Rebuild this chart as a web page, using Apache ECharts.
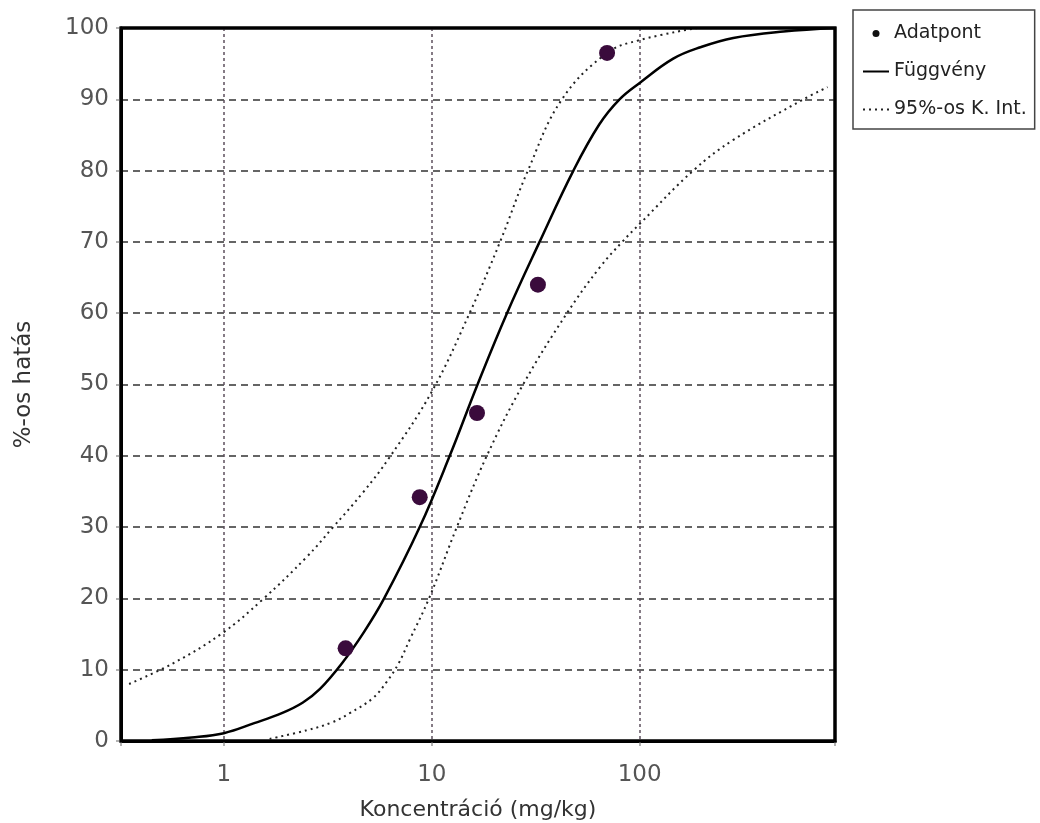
<!DOCTYPE html>
<html>
<head>
<meta charset="utf-8">
<title>Koncentráció - hatás</title>
<script src="https://cdn.jsdelivr.net/npm/echarts@6/dist/echarts.min.js"></script>
<style>
    html, body { margin: 0; padding: 0; background: #fff; }
    #main { width: 1040px; height: 823px; }
</style>
</head>
<body>
<div id="main"></div>
<script>
// mért adatpontok
var pointConc = [3.85, 8.75, 16.5, 32.4, 69.7];
var pointEffect = [13, 34.2, 46, 64, 96.5];

// illesztett függvény
var fitConc = [0.45, 0.7, 1.0, 1.4, 1.9, 2.4, 2.9, 3.7, 4.7, 5.9, 8.75, 12.2, 16.6, 23, 33, 48, 64, 80, 100, 145, 196, 282, 491, 870];
var fitEffect = [0.1, 0.5, 1.1, 2.5, 3.9, 5.4, 7.3, 10.9, 15.2, 20, 30, 40, 50, 60, 70, 80, 86.5, 90, 92.3, 95.7, 97.3, 98.6, 99.5, 100];

// 95%-os konfidencia intervallum, felső ág
var upperConc = [0.35, 0.57, 0.98, 1.53, 2.5, 3.33, 4.65, 6.27, 10, 15.2, 21.3, 29, 42.3, 69.7, 100, 189];
var upperEffect = [8, 10.9, 15.1, 19.8, 25.8, 29.9, 34.8, 39.8, 49, 60, 70, 80, 90, 96.5, 98.3, 100];

// 95%-os konfidencia intervallum, alsó ág
var lowerConc = [1.66, 2.5, 3.3, 4.03, 5.2, 6.07, 6.9, 7.83, 9.7, 13.2, 18.4, 27.5, 44.7, 64.6, 82.4, 100.6, 181, 282, 614, 801];
var lowerEffect = [0.3, 1.5, 2.6, 3.9, 6.0, 8.3, 10.8, 14.2, 20, 30, 40, 50, 60, 66.5, 70, 72.6, 80, 84.3, 90, 91.7];

var yTicks = [0, 10, 20, 30, 40, 50, 60, 70, 80, 90, 100];
var xMin = 0.32, xMax = 870;

var fontName = 'DejaVu Sans, Liberation Sans, Arial, sans-serif';

function pairs(xs, ys) {
    var out = [];
    for (var i = 0; i < xs.length; i++) {
        out.push([xs[i], ys[i]]);
    }
    return out;
}

// csak a 10 hatványait írjuk ki
function decadeLabel(v) {
    var l = Math.log(v) / Math.LN10;
    if (Math.abs(l - Math.round(l)) < 1e-6) {
        return String(Math.round(v));
    }
    return '';
}

var chart = echarts.init(document.getElementById('main'), null, { renderer: 'canvas' });

var option = {
    animation: false,
    backgroundColor: '#fff',
    textStyle: { fontFamily: fontName },
    grid: {
        left: 121,
        top: 28,
        right: 205,
        bottom: 82,
        outerBoundsMode: 'none',
        show: true,
        borderColor: '#000',
        borderWidth: 3,
        backgroundColor: 'transparent'
    },
    legend: {
        orient: 'vertical',
        left: 853,
        top: 10,
        padding: [14, 8, 10, 9],
        itemGap: 19,
        itemWidth: 26,
        itemHeight: 7,
        borderColor: '#444',
        borderWidth: 1.5,
        textStyle: { fontSize: 19, color: '#222', fontFamily: fontName },
        data: [
            { name: 'Adatpont', icon: 'circle', itemStyle: { color: '#111', opacity: 1 } },
            { name: 'Függvény', itemStyle: { opacity: 0 } },
            { name: '95%-os K. Int.', itemStyle: { opacity: 0 } }
        ]
    },
    xAxis: {
        type: 'log',
        logBase: 10,
        min: xMin,
        max: xMax,
        name: 'Koncentráció (mg/kg)',
        nameLocation: 'middle',
        nameGap: 58,
        nameTextStyle: { fontSize: 22, color: '#333', fontFamily: fontName },
        axisLine: { show: true, lineStyle: { color: '#000', width: 3 } },
        axisTick: { show: true, length: 5, lineStyle: { color: '#999', width: 1.5 } },
        axisLabel: {
            margin: 23,
            fontSize: 23,
            color: '#555',
            fontFamily: fontName,
            showMinLabel: true,
            showMaxLabel: true,
            formatter: decadeLabel
        },
        splitLine: {
            show: true,
            lineStyle: { color: '#5e505e', width: 1.5, type: [3, 3] }
        }
    },
    yAxis: {
        type: 'value',
        min: yTicks[0],
        max: yTicks[yTicks.length - 1],
        interval: 10,
        name: '%-os hatás',
        nameLocation: 'middle',
        nameGap: 85,
        nameTextStyle: { fontSize: 23, color: '#333', fontFamily: fontName },
        axisLine: { show: true, lineStyle: { color: '#000', width: 3 } },
        axisTick: { show: true, length: 5, lineStyle: { color: '#999', width: 1.5 } },
        axisLabel: { margin: 12, fontSize: 23, color: '#555', fontFamily: fontName },
        splitLine: {
            show: true,
            lineStyle: { color: '#333', width: 1.5, type: [7, 5] }
        }
    },
    series: [
        {
            name: '95%-os K. Int.',
            type: 'line',
            data: pairs(upperConc, upperEffect),
            smooth: 0.4,
            symbol: 'none',
            lineStyle: { color: '#222', width: 2, type: [2, 4] },
            z: 3
        },
        {
            name: '95%-os K. Int.',
            type: 'line',
            data: pairs(lowerConc, lowerEffect),
            smooth: 0.4,
            symbol: 'none',
            lineStyle: { color: '#222', width: 2, type: [2, 4] },
            z: 3
        },
        {
            name: 'Függvény',
            type: 'line',
            data: pairs(fitConc, fitEffect),
            smooth: 0.4,
            symbol: 'none',
            lineStyle: { color: '#000', width: 2.5 },
            z: 4
        },
        {
            name: 'Adatpont',
            type: 'scatter',
            data: pairs(pointConc, pointEffect),
            symbol: 'circle',
            symbolSize: 16,
            itemStyle: { color: '#3a0b3c', opacity: 1 },
            z: 5
        }
    ]
};

chart.setOption(option);

// keret a rácsvonalak fölé, hogy tömör fekete maradjon
var p0 = chart.convertToPixel({ gridIndex: 0 }, [xMin, yTicks[0]]);
var p1 = chart.convertToPixel({ gridIndex: 0 }, [xMax, yTicks[yTicks.length - 1]]);
chart.setOption({
    graphic: [{
        type: 'rect',
        z: 100,
        silent: true,
        shape: { x: p0[0], y: p1[1], width: p1[0] - p0[0], height: p0[1] - p1[1] },
        style: { fill: null, stroke: '#000', lineWidth: 3 }
    }]
});
</script>
</body>
</html>
